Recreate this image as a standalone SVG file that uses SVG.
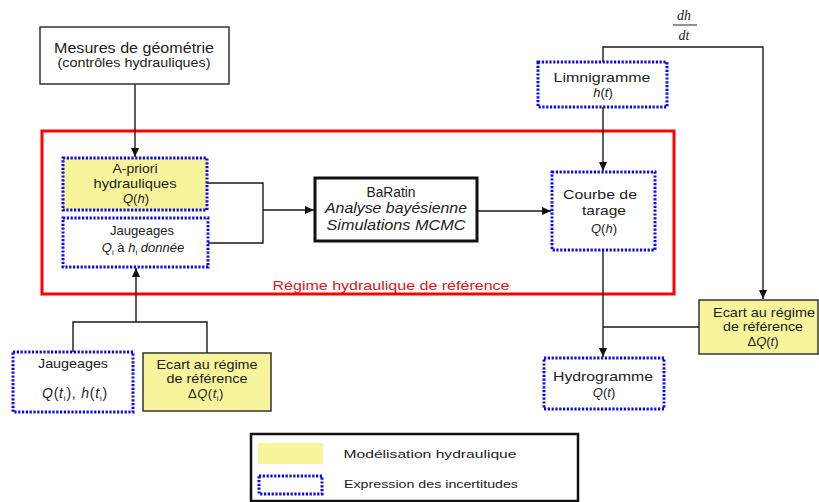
<svg xmlns="http://www.w3.org/2000/svg" width="819" height="502" viewBox="0 0 819 502">
  <style>
    text { font-family: "Liberation Sans", Arial, sans-serif; fill: #222; }
    .lbl { font-size: 13px; }
    .it { font-style: italic; }
    .sub { font-size: 8px; }
    .plain { fill: #fff; stroke: #333; stroke-width: 1.5; }
    .model { fill: #f8f49c; stroke: #333; stroke-width: 1.5; }
    .dotted { stroke: #0a0ae6; stroke-width: 3; stroke-dasharray: 2.2 1.6; }
    .conn { fill: none; stroke: #1a1a1a; stroke-width: 1.4; }
    .math { font-family: "Liberation Serif", "Times New Roman", serif; font-style: italic; font-size: 14px; }
  </style>
  <defs>
    <marker id="arrow" markerUnits="userSpaceOnUse" markerWidth="10" markerHeight="10" viewBox="0 0 10 10" refX="9" refY="5" orient="auto">
      <path d="M0,1 L9,5 L0,9 z" fill="#111"/>
    </marker>
  </defs>

  <rect width="819" height="502" fill="#fff"/>

  <!-- reference regime frame -->
  <g id="regime">
    <rect x="42" y="131" width="632" height="163" fill="none" stroke="#ff0000" stroke-width="3"/>
    <text x="391" y="290" text-anchor="middle" font-size="13.5" style="fill:#e0141e" textLength="237" lengthAdjust="spacingAndGlyphs">Régime hydraulique de référence</text>
  </g>

  <!-- connectors -->
  <g id="connectors" class="conn">
    <path d="M135,84 V157" marker-end="url(#arrow)"/>
    <path d="M207,183 H263 V243 H208"/>
    <path d="M263,210 H314" marker-end="url(#arrow)"/>
    <path d="M477,211 H551" marker-end="url(#arrow)"/>
    <path d="M603,62 V47 H763 V299" marker-end="url(#arrow)"/>
    <path d="M603,107 V171" marker-end="url(#arrow)"/>
    <path d="M603,250 V357" marker-end="url(#arrow)"/>
    <path d="M699,327 H603"/>
    <path d="M73,352 V322 H207 V353"/>
    <path d="M136,322 V268" marker-end="url(#arrow)"/>
  </g>

  <g id="mesures">
    <rect class="plain" x="40" y="27" width="189" height="57"/>
    <text x="134" y="53" text-anchor="middle" font-size="14" textLength="160" lengthAdjust="spacingAndGlyphs">Mesures de géométrie</text>
    <text x="134" y="67" text-anchor="middle" font-size="12.5" textLength="153" lengthAdjust="spacingAndGlyphs">(contrôles hydrauliques)</text>
  </g>

  <g id="apriori">
    <rect class="dotted" x="63" y="158" width="144" height="52" fill="#f8f49c"/>
    <text class="lbl" x="135" y="173" text-anchor="middle" textLength="45" lengthAdjust="spacingAndGlyphs">A-priori</text>
    <text class="lbl" x="135" y="188" text-anchor="middle" textLength="83" lengthAdjust="spacingAndGlyphs">hydrauliques</text>
    <text class="lbl" x="136" y="203" text-anchor="middle"><tspan class="it">Q</tspan>(<tspan class="it">h</tspan>)</text>
  </g>

  <g id="jaugeages-ref">
    <rect class="dotted" x="63" y="218" width="145" height="49" fill="#fff"/>
    <text class="lbl" x="142" y="235" text-anchor="middle" textLength="64" lengthAdjust="spacingAndGlyphs">Jaugeages</text>
    <text class="lbl" x="143" y="252" text-anchor="middle"><tspan class="it">Q</tspan><tspan class="sub" dy="3">i</tspan><tspan dy="-3"> à </tspan><tspan class="it">h</tspan><tspan class="sub" dy="3">i</tspan><tspan class="it" dy="-3"> donnée</tspan></text>
  </g>

  <g id="baratin">
    <rect x="315" y="178" width="162" height="63" fill="#fff" stroke="#111" stroke-width="3"/>
    <text x="391" y="197" text-anchor="middle" font-size="14" textLength="49" lengthAdjust="spacingAndGlyphs">BaRatin</text>
    <text class="it" x="396" y="213" text-anchor="middle" font-size="14" textLength="142" lengthAdjust="spacingAndGlyphs">Analyse bayésienne</text>
    <text class="it" x="396" y="230" text-anchor="middle" font-size="14" textLength="139" lengthAdjust="spacingAndGlyphs">Simulations MCMC</text>
  </g>

  <g id="derivee">
    <text class="math" x="684" y="20" text-anchor="middle">dh</text>
    <line x1="673" y1="25" x2="697" y2="25" stroke="#222" stroke-width="1"/>
    <text class="math" x="684" y="40" text-anchor="middle">dt</text>
  </g>

  <g id="limnigramme">
    <rect class="dotted" x="538" y="62" width="129" height="45" fill="#fff"/>
    <text class="lbl" x="602" y="82" text-anchor="middle" textLength="97" lengthAdjust="spacingAndGlyphs">Limnigramme</text>
    <text class="lbl" x="603" y="97" text-anchor="middle"><tspan class="it">h</tspan>(<tspan class="it">t</tspan>)</text>
  </g>

  <g id="courbe">
    <rect class="dotted" x="552" y="172" width="103" height="78" fill="#fff"/>
    <text class="lbl" x="600" y="199" text-anchor="middle" textLength="74" lengthAdjust="spacingAndGlyphs">Courbe de</text>
    <text class="lbl" x="604" y="215" text-anchor="middle" textLength="44" lengthAdjust="spacingAndGlyphs">tarage</text>
    <text class="lbl" x="604" y="233" text-anchor="middle"><tspan class="it">Q</tspan>(<tspan class="it">h</tspan>)</text>
  </g>

  <g id="ecart-droite">
    <rect class="model" x="699" y="300" width="119" height="54"/>
    <text class="lbl" x="764" y="317" text-anchor="middle" textLength="102" lengthAdjust="spacingAndGlyphs">Ecart au régime</text>
    <text class="lbl" x="763" y="331" text-anchor="middle" textLength="80" lengthAdjust="spacingAndGlyphs">de référence</text>
    <text class="lbl" x="763" y="346" text-anchor="middle">Δ<tspan class="it">Q</tspan>(<tspan class="it">t</tspan>)</text>
  </g>

  <g id="hydrogramme">
    <rect class="dotted" x="544" y="358" width="120" height="51" fill="#fff"/>
    <text class="lbl" x="603" y="381" text-anchor="middle" textLength="100" lengthAdjust="spacingAndGlyphs">Hydrogramme</text>
    <text class="lbl" x="604" y="397" text-anchor="middle"><tspan class="it">Q</tspan>(<tspan class="it">t</tspan>)</text>
  </g>

  <g id="jaugeages">
    <rect class="dotted" x="13" y="352" width="120" height="60" fill="#fff"/>
    <text class="lbl" x="73" y="368" text-anchor="middle" textLength="70" lengthAdjust="spacingAndGlyphs">Jaugeages</text>
    <text x="75" y="398" text-anchor="middle" font-size="14" letter-spacing="0.8"><tspan class="it">Q</tspan>(<tspan class="it">t</tspan><tspan class="sub" dy="3">i</tspan><tspan dy="-3">), </tspan><tspan class="it">h</tspan>(<tspan class="it">t</tspan><tspan class="sub" dy="3">i</tspan><tspan dy="-3">)</tspan></text>
  </g>

  <g id="ecart-gauche">
    <rect class="model" x="143" y="353" width="128" height="58"/>
    <text class="lbl" x="207" y="369" text-anchor="middle" textLength="101" lengthAdjust="spacingAndGlyphs">Ecart au régime</text>
    <text class="lbl" x="207" y="383" text-anchor="middle" textLength="81" lengthAdjust="spacingAndGlyphs">de référence</text>
    <text class="lbl" x="206" y="398" text-anchor="middle" letter-spacing="0.5">Δ<tspan class="it">Q</tspan>(<tspan class="it">t</tspan><tspan class="sub" dy="3">i</tspan><tspan dy="-3">)</tspan></text>
  </g>

  <g id="legende">
    <rect x="251" y="434" width="327" height="67" fill="#fff" stroke="#111" stroke-width="2.5"/>
    <rect x="258" y="443" width="65" height="21" fill="#f8f49c"/>
    <rect class="dotted" x="259" y="476" width="63" height="18" fill="#fff"/>
    <text x="430" y="458" text-anchor="middle" font-size="11.5" textLength="173" lengthAdjust="spacingAndGlyphs">Modélisation hydraulique</text>
    <text x="431" y="488" text-anchor="middle" font-size="11.5" textLength="174" lengthAdjust="spacingAndGlyphs">Expression des incertitudes</text>
  </g>
</svg>
